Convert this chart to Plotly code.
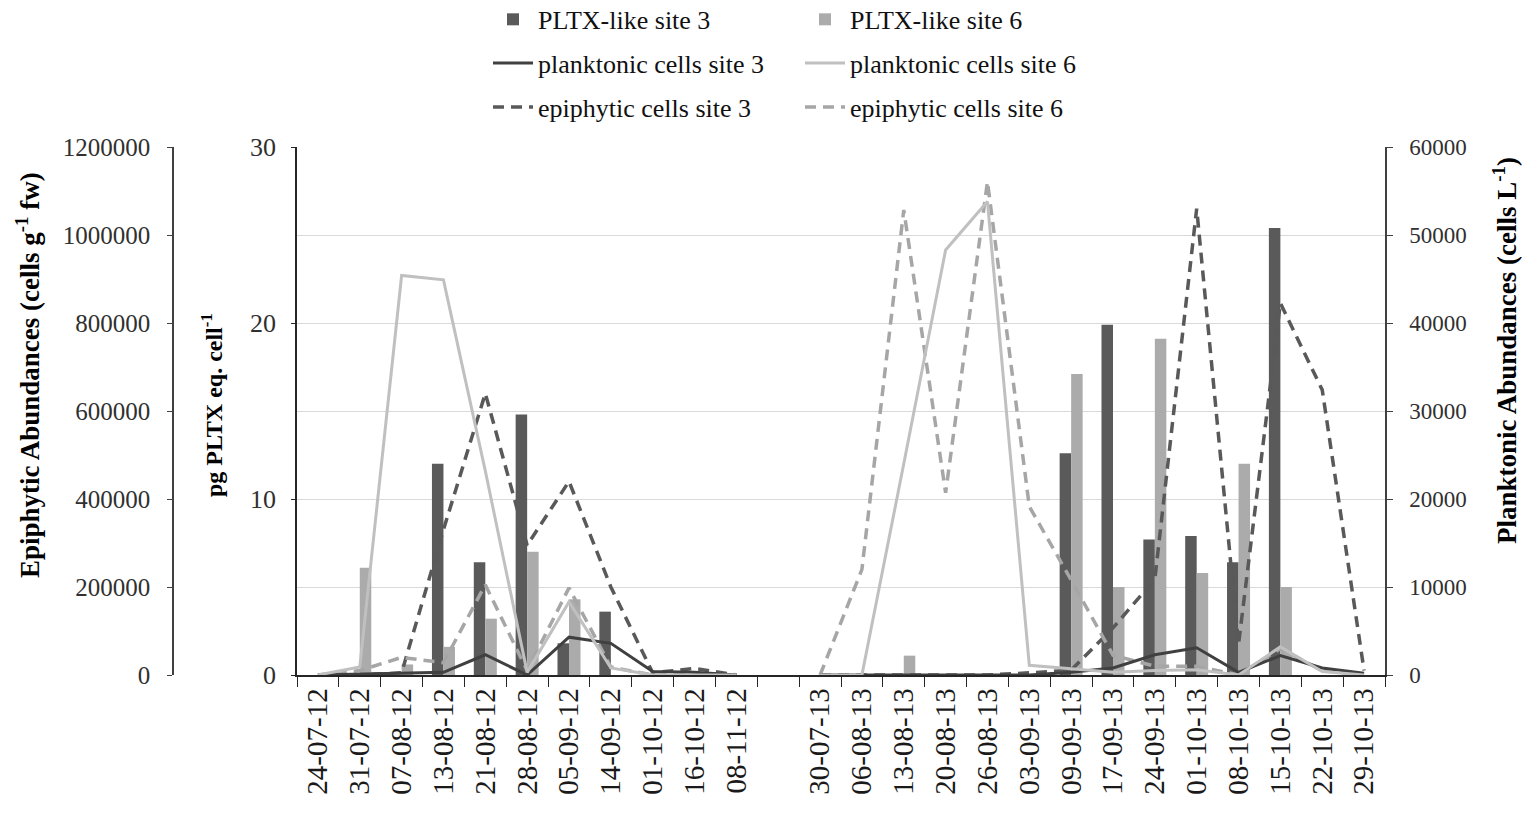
import plotly.graph_objects as go

# ---------------- data ----------------
categories = ["24-07-12", "31-07-12", "07-08-12", "13-08-12", "21-08-12", "28-08-12",
              "05-09-12", "14-09-12", "01-10-12", "16-10-12", "08-11-12", " ",
              "30-07-13", "06-08-13", "13-08-13", "20-08-13", "26-08-13", "03-09-13",
              "09-09-13", "17-09-13", "24-09-13", "01-10-13", "08-10-13", "15-10-13",
              "22-10-13", "29-10-13"]

pltx_site3 = [0, 0, 0, 12.0, 6.4, 14.8, 1.8, 3.6, 0, 0, 0, None,
              0, 0, 0, 0, 0, 0, 12.6, 19.9, 7.7, 7.9, 6.4, 25.4, 0, 0]
pltx_site6 = [0, 6.1, 0.6, 1.6, 3.2, 7.0, 4.3, 0, 0, 0, 0, None,
              0, 0, 1.1, 0, 0, 0, 17.1, 5.0, 19.1, 5.8, 12.0, 5.0, 0, 0]

planktonic_site3 = [0, 100, 200, 300, 2300, 0, 4300, 3600, 400, 300, 0, None,
                    0, 0, 0, 0, 0, 0, 300, 800, 2300, 3100, 300, 2200, 800, 200]
planktonic_site6 = [0, 900, 45400, 44900, 23200, 300, 8300, 800, 0, 0, 0, None,
                    0, 0, 24000, 48300, 53800, 1100, 700, 300, 500, 600, 0, 3200, 400, 0]

epiphytic_site3 = [0, 0, 5000, 330000, 640000, 295000, 440000, 200000, 5000, 15000, 0, None,
                   0, 0, 0, 0, 0, 5000, 11000, 107000, 218000, 1060000, 70000, 845000, 648000, 10000]
epiphytic_site6 = [0, 10000, 40000, 28000, 205000, 10000, 198000, 18000, 0, 3000, 0, None,
                   0, 240000, 1057000, 414000, 1121000, 383000, 216000, 45000, 20000, 20000, 0, 60000, 10000, 0]

pltx_ticks = [0, 10, 20, 30]
epi_ticks = [0, 200000, 400000, 600000, 800000, 1000000, 1200000]
plank_ticks = [0, 10000, 20000, 30000, 40000, 50000, 60000]

# ---------------- styling ----------------
W, H = 1532, 817
FONT = "Liberation Serif"
DARK_BAR = "#5a5a5a"
LIGHT_BAR = "#ababab"

fig = go.Figure()

fig.add_trace(go.Bar(x=categories, y=pltx_site3, name="PLTX-like site 3",
                     marker=dict(color=DARK_BAR, line=dict(width=0)),
                     yaxis="y", legend="legend", legendgroup="a1"))
fig.add_trace(go.Bar(x=categories, y=pltx_site6, name="PLTX-like site 6",
                     marker=dict(color=LIGHT_BAR, line=dict(width=0)),
                     yaxis="y", legend="legend2", legendgroup="b1"))

fig.add_trace(go.Scatter(x=categories, y=planktonic_site3, name="planktonic cells site 3",
                         mode="lines", line=dict(color="#404040", width=3),
                         yaxis="y3", legend="legend", legendgroup="a2"))
fig.add_trace(go.Scatter(x=categories, y=planktonic_site6, name="planktonic cells site 6",
                         mode="lines", line=dict(color="#c0c0c0", width=3),
                         yaxis="y3", legend="legend2", legendgroup="b2"))

fig.add_trace(go.Scatter(x=categories, y=epiphytic_site3, name="epiphytic cells site 3",
                         mode="lines", line=dict(color="#595959", width=3.5, dash="11px,7px"),
                         yaxis="y2", legend="legend", legendgroup="a3"))
fig.add_trace(go.Scatter(x=categories, y=epiphytic_site6, name="epiphytic cells site 6",
                         mode="lines", line=dict(color="#a6a6a6", width=3.5, dash="11px,7px"),
                         yaxis="y2", legend="legend2", legendgroup="b3"))

x0, x1 = 297 / W, 1385 / W
y0, y1 = (H - 675) / H, (H - 147) / H

tickfont = dict(family=FONT, size=25, color="#303030")

legend_common = dict(orientation="v", yanchor="top", y=1.005, xanchor="left",
                     font=dict(family=FONT, size=26, color="#111111"),
                     bgcolor="rgba(0,0,0,0)", tracegroupgap=7, itemwidth=40)

fig.update_layout(
    width=W, height=H,
    margin=dict(l=0, r=0, t=0, b=0, autoexpand=False),
    paper_bgcolor="white", plot_bgcolor="white",
    font=dict(family=FONT),
    barmode="group", bargap=0.45, bargroupgap=0.0,
    xaxis=dict(domain=[x0, x1], type="category", categoryorder="array",
               categoryarray=categories, showline=True, linecolor="#262626", linewidth=1.5,
               ticks="outside", ticklen=10, tickcolor="#262626", tickson="boundaries",
               tickangle=-90, tickfont=dict(family=FONT, size=29, color="#1a1a1a"),
               showgrid=False, zeroline=False, fixedrange=True, automargin=False),
    yaxis=dict(domain=[y0, y1], range=[0, 30], tickvals=pltx_ticks, side="left",
               showline=True, linecolor="#262626", linewidth=1.5, ticks="outside", ticklen=4,
               tickcolor="#262626", tickfont=dict(family=FONT, size=26, color="#303030"),
               ticklabelstandoff=10, automargin=False,
               showgrid=False, zeroline=False),
    yaxis2=dict(range=[0, 1200000], tickvals=epi_ticks, tickformat="d", overlaying="y",
                side="left", anchor="free", position=173 / W, automargin=False,
                showline=True, linecolor="#404040", linewidth=1.5, ticks="outside", ticklen=5,
                tickcolor="#404040", tickfont=tickfont, ticklabelstandoff=12,
                showgrid=False, zeroline=False),
    yaxis3=dict(range=[0, 60000], tickvals=plank_ticks, tickformat="d", overlaying="y",
                side="right", anchor="x", automargin=False,
                showline=True, linecolor="#404040", linewidth=1.5, ticks="outside", ticklen=6,
                tickcolor="#404040", tickfont=dict(family=FONT, size=23, color="#303030"),
                ticklabelstandoff=12,
                showgrid=True, gridcolor="#d9d9d9", gridwidth=1, zeroline=False),
    legend=dict(x=488 / W, **legend_common),
    legend2=dict(x=800 / W, **legend_common),
    showlegend=True,
)

fig.add_annotation(text="<b>Epiphytic Abundances (cells g<sup>-1</sup> fw)</b>",
                   xref="paper", yref="paper", x=28 / W, y=(H - 375) / H,
                   textangle=-90, showarrow=False,
                   font=dict(family=FONT, size=27, color="#000000"),
                   xanchor="center", yanchor="middle")
fig.add_annotation(text="<b>pg PLTX eq. cell<sup>-1</sup></b>",
                   xref="paper", yref="paper", x=212 / W, y=(H - 405) / H,
                   textangle=-90, showarrow=False,
                   font=dict(family=FONT, size=24, color="#000000"),
                   xanchor="center", yanchor="middle")
fig.add_annotation(text="<b>Planktonic Abundances (cells L<sup>-1</sup>)</b>",
                   xref="paper", yref="paper", x=1505 / W, y=(H - 351) / H,
                   textangle=-90, showarrow=False,
                   font=dict(family=FONT, size=27, color="#000000"),
                   xanchor="center", yanchor="middle")

fig.write_html("out.html", config={"displayModeBar": False},
               post_script="document.body.style.margin='0';document.body.style.overflow='hidden';")
